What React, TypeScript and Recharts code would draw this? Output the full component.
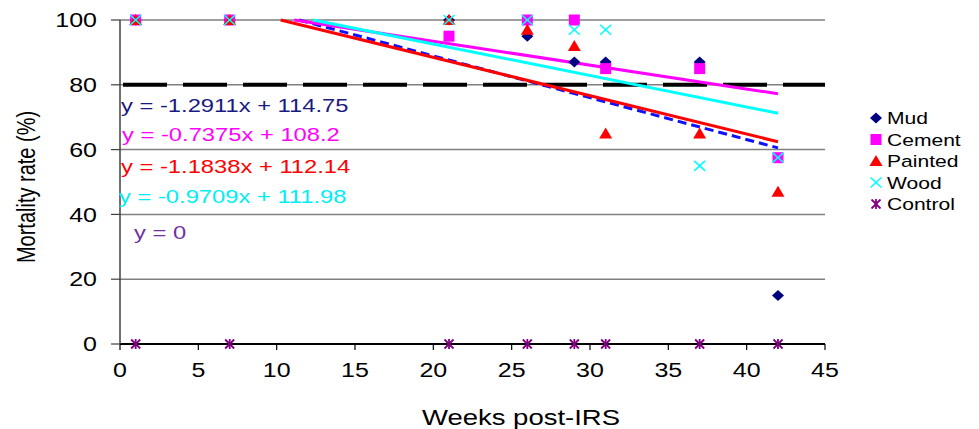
import React from 'react';
import {
  ComposedChart,
  Scatter,
  Line,
  XAxis,
  YAxis,
  CartesianGrid,
  ReferenceLine,
  Legend,
} from 'recharts';

// ---------- data ----------
const weeks = [1, 7, 21, 26, 29, 31, 37, 42];
const mudValues = [100, 100, 100, 95, 87, 87, 87, 15];
const cementValues = [100, 100, 95, 100, 100, 85, 85, 57.5];
const paintedValues = [100, 100, 100, 97, 92, 65, 65, 47];
const woodValues = [100, 100, 100, 100, 97, 97, 55, 57.5];
const controlValues = [0, 0, 0, 0, 0, 0, 0, 0];

const seriesNames = ['Mud', 'Cement', 'Painted', 'Wood', 'Control'];
const trendSlopes = [-1.2911, -0.7375, -1.1838, -0.9709];
const trendIntercepts = [114.75, 108.2, 112.14, 111.98];
const equationLabels = [
  'y = -1.2911x + 114.75',
  'y = -0.7375x + 108.2',
  'y = -1.1838x + 112.14',
  'y = -0.9709x + 111.98',
  'y = 0',
];
const xTicks = [0, 5, 10, 15, 20, 25, 30, 35, 40, 45];
const yTicks = [0, 20, 40, 60, 80, 100];
const thresholdValue = 80;
const xTitle = 'Weeks post-IRS';
const yTitle = 'Mortality rate (%)';

// ---------- styling ----------
const FONT = '"Liberation Sans", Arial, sans-serif';
const W = 979;
const H = 429;
const markerColors = ['#000080', '#FF00FF', '#FF0000', '#00FFFF', '#800080'];
const trendColors = ['#1010FF', '#FF00FF', '#FF0000', '#00FFFF'];
const eqColors = ['#1a1a80', '#FF00FF', '#FF0000', '#00EEF5', '#7030A0'];
const SX = 1.25;

const toPoints = (vals: number[]) => weeks.map((w, i) => ({ x: w, y: vals[i] }));
const seriesData = [mudValues, cementValues, paintedValues, woodValues, controlValues].map(toPoints);

const trendData = trendSlopes.map((m, i) => {
  const b = trendIntercepts[i];
  const xStart = Math.max(weeks[0], (100 - b) / m);
  const xEnd = weeks[weeks.length - 1];
  return [
    { x: xStart, y: m * xStart + b },
    { x: xEnd, y: m * xEnd + b },
  ];
});

// ---------- marker shapes ----------
const drawMarker = (kind: number, cx: number, cy: number, key?: string) => {
  const c = markerColors[kind];
  switch (kind) {
    case 0:
      return (
        <polygon key={key} points={`${cx},${cy - 5.5} ${cx + 6},${cy} ${cx},${cy + 5.5} ${cx - 6},${cy}`} fill={c} />
      );
    case 1:
      return <rect key={key} x={cx - 5.5} y={cy - 5.5} width={11} height={11} fill={c} />;
    case 2:
      return (
        <polygon key={key} points={`${cx},${cy - 6} ${cx + 6.5},${cy + 5} ${cx - 6.5},${cy + 5}`} fill={c} />
      );
    case 3:
      return (
        <g key={key} stroke={c} strokeWidth={1.6}>
          <line x1={cx - 5.5} y1={cy - 5} x2={cx + 5.5} y2={cy + 5} />
          <line x1={cx - 5.5} y1={cy + 5} x2={cx + 5.5} y2={cy - 5} />
        </g>
      );
    default:
      return (
        <g key={key} stroke={c} strokeWidth={1.8}>
          <line x1={cx - 4.5} y1={cy - 4.5} x2={cx + 4.5} y2={cy + 4.5} />
          <line x1={cx - 4.5} y1={cy + 4.5} x2={cx + 4.5} y2={cy - 4.5} />
          <line x1={cx} y1={cy - 5} x2={cx} y2={cy + 5} />
        </g>
      );
  }
};

const makeShape = (kind: number) => (props: any) => {
  const { cx, cy } = props;
  if (cx == null || cy == null) return <g />;
  return drawMarker(kind, cx, cy);
};

// ---------- ticks ----------
const XTick = (props: any) => {
  const { x, y, payload } = props;
  return (
    <text
      transform={`translate(${x},${y}) scale(${SX},1)`}
      textAnchor="middle"
      dy="0.71em"
      fontSize={20}
      fontFamily={FONT}
      fill="#000"
    >
      {payload.value}
    </text>
  );
};

const YTick = (props: any) => {
  const { x, y, payload } = props;
  return (
    <text
      transform={`translate(${x},${y}) scale(${SX},1)`}
      textAnchor="end"
      dy="0.355em"
      fontSize={20}
      fontFamily={FONT}
      fill="#000"
    >
      {payload.value}
    </text>
  );
};

// ---------- legend ----------
const LegendContent = () => (
  <svg width={111} height={110} style={{ display: 'block' }}>
    {seriesNames.map((name, i) => {
      const base = 20 + i * 21.5;
      return (
        <g key={name}>
          {drawMarker(i, 8, base - 6)}
          <text
            transform={`translate(19,${base}) scale(1.24,1)`}
            fontSize={17}
            fontFamily={FONT}
            fill="#000"
          >
            {name}
          </text>
        </g>
      );
    })}
  </svg>
);

// equation label placement (baseline) in page pixels
const eqPos = [
  { x: 121, y: 112 },
  { x: 122, y: 141 },
  { x: 121, y: 173 },
  { x: 119, y: 203 },
  { x: 134, y: 239 },
];

export default function App() {
  return (
    <div style={{ position: 'absolute', left: 0, top: 0, width: W, height: H, background: '#fff' }}>
      <ComposedChart
        width={W}
        height={H}
        margin={{ top: 20, right: 154, bottom: 0, left: 0 }}
        style={{ fontFamily: FONT }}
      >
        <CartesianGrid vertical={false} stroke="#7f7f7f" strokeWidth={1.5} />
        <XAxis
          type="number"
          dataKey="x"
          domain={[0, 45]}
          ticks={xTicks}
          allowDecimals={false}
          height={85}
          tickSize={6}
          tickMargin={13}
          axisLine={{ stroke: '#000', strokeWidth: 2 }}
          tickLine={{ stroke: '#000', strokeWidth: 1.2 }}
          tick={<XTick />}
        />
        <YAxis
          type="number"
          dataKey="y"
          domain={[0, 100]}
          ticks={yTicks}
          width={120}
          tickSize={9}
          tickMargin={14}
          axisLine={{ stroke: '#404040', strokeWidth: 1.5 }}
          tickLine={{ stroke: '#404040', strokeWidth: 1.2 }}
          tick={<YTick />}
        />
        <ReferenceLine
          y={thresholdValue}
          stroke="#000"
          strokeWidth={4}
          strokeDasharray="44 16"
          strokeDashoffset={-3}
        />
        {seriesData.map((d, i) => (
          <Scatter
            key={seriesNames[i]}
            name={seriesNames[i]}
            data={d}
            dataKey="y"
            shape={makeShape(i)}
            isAnimationActive={false}
          />
        ))}
        {trendData.map((d, i) => (
          <Line
            key={'trend' + i}
            data={d}
            dataKey="y"
            type="linear"
            stroke={trendColors[i]}
            strokeWidth={3}
            strokeDasharray={i === 0 ? '9 5' : undefined}
            dot={false}
            activeDot={false}
            legendType="none"
            isAnimationActive={false}
          />
        ))}
        <Legend
          layout="vertical"
          align="center"
          verticalAlign="middle"
          wrapperStyle={{ left: 868, top: 104, width: 111 }}
          content={<LegendContent />}
        />
      </ComposedChart>
      <svg
        width={W}
        height={H}
        style={{ position: 'absolute', left: 0, top: 0, pointerEvents: 'none' }}
      >
        {equationLabels.map((t, i) => (
          <text
            key={t}
            transform={`translate(${eqPos[i].x},${eqPos[i].y}) scale(${SX},1)`}
            fontSize={19}
            fontFamily={FONT}
            fill={eqColors[i]}
          >
            {t}
          </text>
        ))}
        <text
          transform={`translate(521,425) scale(${SX},1)`}
          textAnchor="middle"
          fontSize={22}
          fontFamily={FONT}
          fill="#000"
        >
          {xTitle}
        </text>
        <text
          transform={`translate(35,187) rotate(-90) scale(1,${SX})`}
          textAnchor="middle"
          fontSize={20}
          fontFamily={FONT}
          fill="#000"
        >
          {yTitle}
        </text>
      </svg>
    </div>
  );
}
